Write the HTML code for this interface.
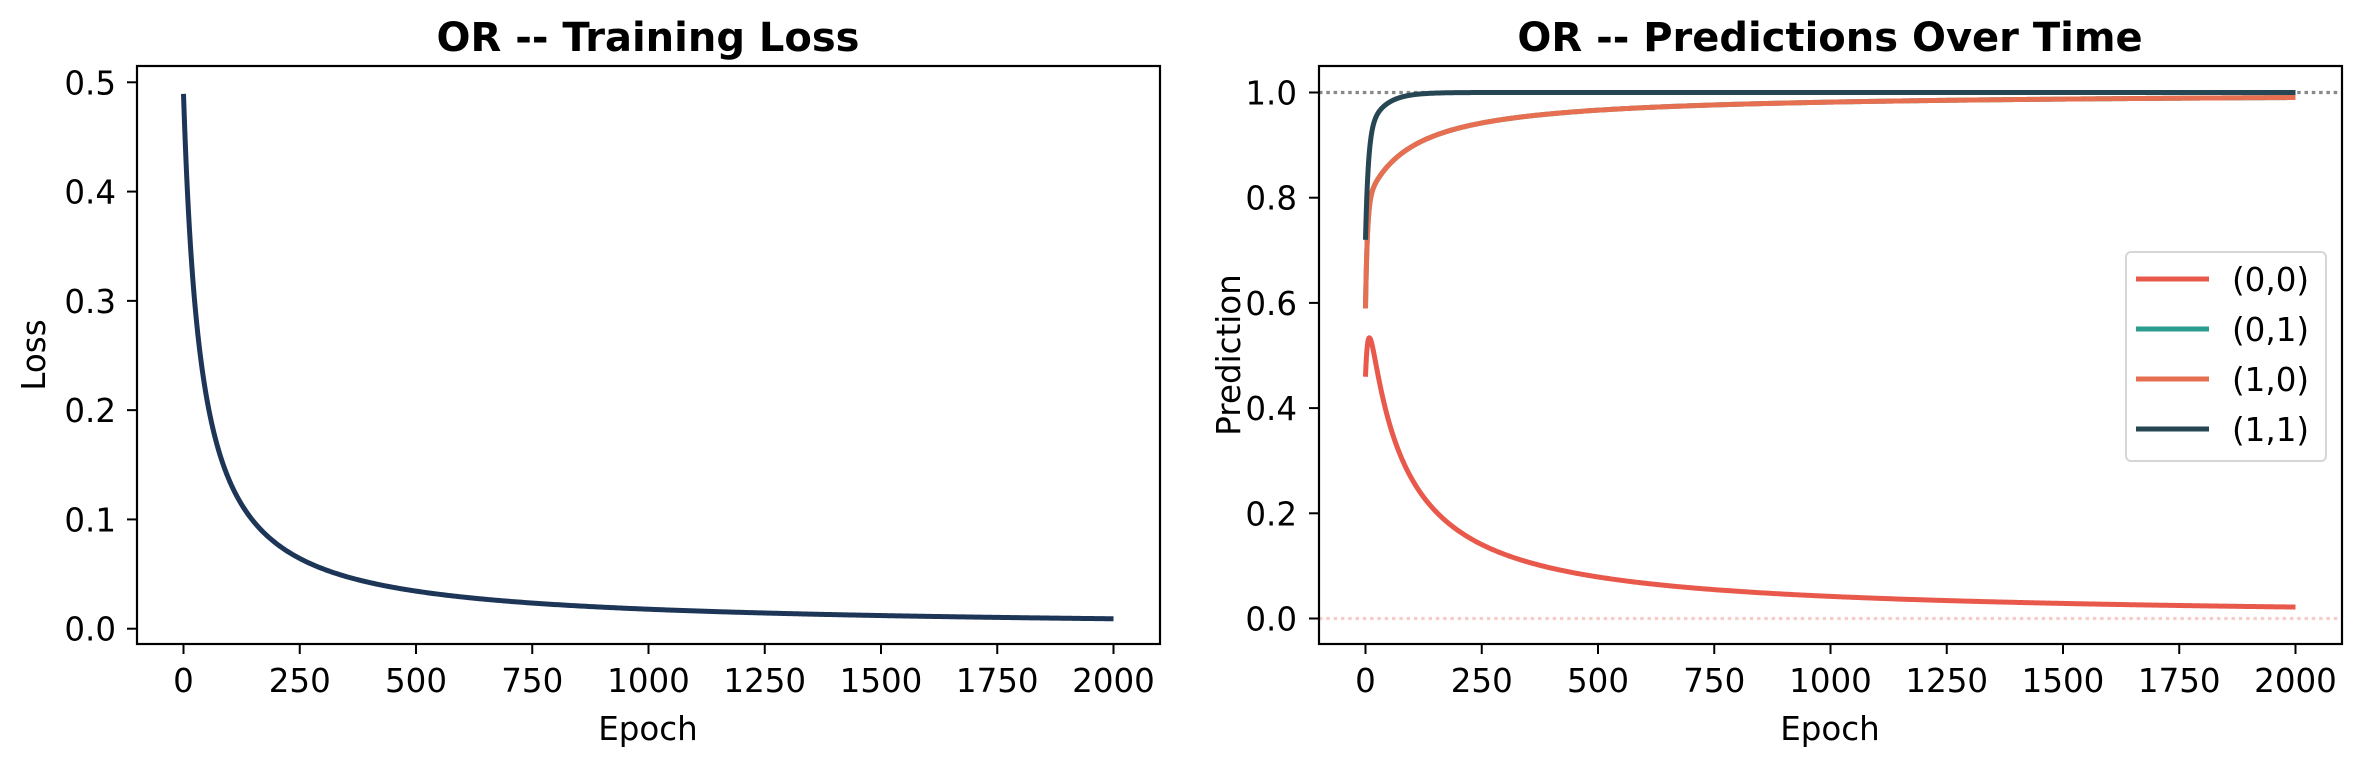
<!DOCTYPE html>
<html><head><meta charset="utf-8"><style>
html,body{margin:0;padding:0;background:#fff;}
svg{display:block;font-family:"DejaVu Sans","Liberation Sans",sans-serif;}
</style></head><body>
<svg id="s" width="2361" height="762" xmlns="http://www.w3.org/2000/svg"></svg>
<script>
const s=document.getElementById('s');let h='';
const fs=32.5;
function lx(e){return 183.5+e*0.465;}
function ly(v){return 628.7-v*1092.8;}
function rx(e){return 1365.5+e*0.465;}
function ry(v){return 618.5-v*526;}
function path(fx,fy,f,col,w){let d='';for(let e=0;e<=2000;e+=(e<100?0.5:4)){d+=(d?'L':'M')+fx(e).toFixed(2)+','+fy(f(e)).toFixed(2);}
 h+=`<path d="${d}" fill="none" stroke="${col}" stroke-width="${w}" stroke-linejoin="round"/>`;}
const W=5;
path(lx,ly,e=>18.5/(e+37.8),'#1d3557',W);
h+=`<line x1="1319" x2="2342" y1="${ry(1)}" y2="${ry(1)}" stroke="#888" stroke-width="3.2" stroke-dasharray="3.5,3.8"/>`;
h+=`<line x1="1319" x2="2342" y1="${ry(0)}" y2="${ry(0)}" stroke="#e8594c" stroke-opacity="0.3" stroke-width="3.2" stroke-dasharray="3.5,3.8"/>`;
path(rx,ry,e=>45/(e+70)*(1-0.285*Math.exp(-e/6)),'#e8594c',W);
const p01=e=>1-(0.2*Math.exp(-e/4)+20/(e+95));
path(rx,ry,p01,'#2a9d8f',W);
path(rx,ry,p01,'#e76f51',W);
path(rx,ry,e=>1-(0.2*Math.exp(-e/6)+0.08*Math.exp(-e/35)),'#264653',W);
h+=`<rect x="137" y="66" width="1023" height="578" fill="none" stroke="#000" stroke-width="2.2"/>`;
h+=`<rect x="1319" y="66" width="1023" height="578" fill="none" stroke="#000" stroke-width="2.2"/>`;
for(let e=0;e<=2000;e+=250){for(const fx of [lx,rx]){const x=fx(e);h+=`<line x1="${x}" x2="${x}" y1="644" y2="654" stroke="#000" stroke-width="2"/><text x="${x}" y="692" font-size="${fs}" text-anchor="middle">${e}</text>`;}}
for(let i=0;i<=5;i++){const v=i/10,y=ly(v);h+=`<line x1="127" x2="137" y1="${y}" y2="${y}" stroke="#000" stroke-width="2"/><text x="116" y="${y+12}" font-size="${fs}" text-anchor="end">${v.toFixed(1)}</text>`;}
for(let i=0;i<=5;i++){const v=i/5,y=ry(v);h+=`<line x1="1309" x2="1319" y1="${y}" y2="${y}" stroke="#000" stroke-width="2"/><text x="1297" y="${y+12}" font-size="${fs}" text-anchor="end">${v.toFixed(1)}</text>`;}
h+=`<text x="648" y="740" font-size="${fs}" text-anchor="middle">Epoch</text><text x="1830" y="740" font-size="${fs}" text-anchor="middle">Epoch</text>`;
h+=`<text transform="translate(45,355) rotate(-90)" font-size="${fs}" text-anchor="middle">Loss</text>`;
h+=`<text transform="translate(1240,355) rotate(-90)" font-size="${fs}" text-anchor="middle">Prediction</text>`;
h+=`<text x="648" y="51" font-size="40" font-weight="bold" text-anchor="middle">OR -- Training Loss</text>`;
h+=`<text x="1830" y="51" font-size="40" font-weight="bold" text-anchor="middle">OR -- Predictions Over Time</text>`;
h+=`<rect x="2126" y="252" width="200" height="209" rx="5" fill="#fff" fill-opacity="0.8" stroke="#d6d6d6" stroke-width="2"/>`;
[['(0,0)','#e8594c'],['(0,1)','#2a9d8f'],['(1,0)','#e76f51'],['(1,1)','#264653']].forEach((a,i)=>{const y=279+i*50;
h+=`<line x1="2136" x2="2209" y1="${y}" y2="${y}" stroke="${a[1]}" stroke-width="${W}"/><text x="2232" y="${y+12}" font-size="${fs}">${a[0]}</text>`;});
s.innerHTML=h;
</script>
</body></html>
